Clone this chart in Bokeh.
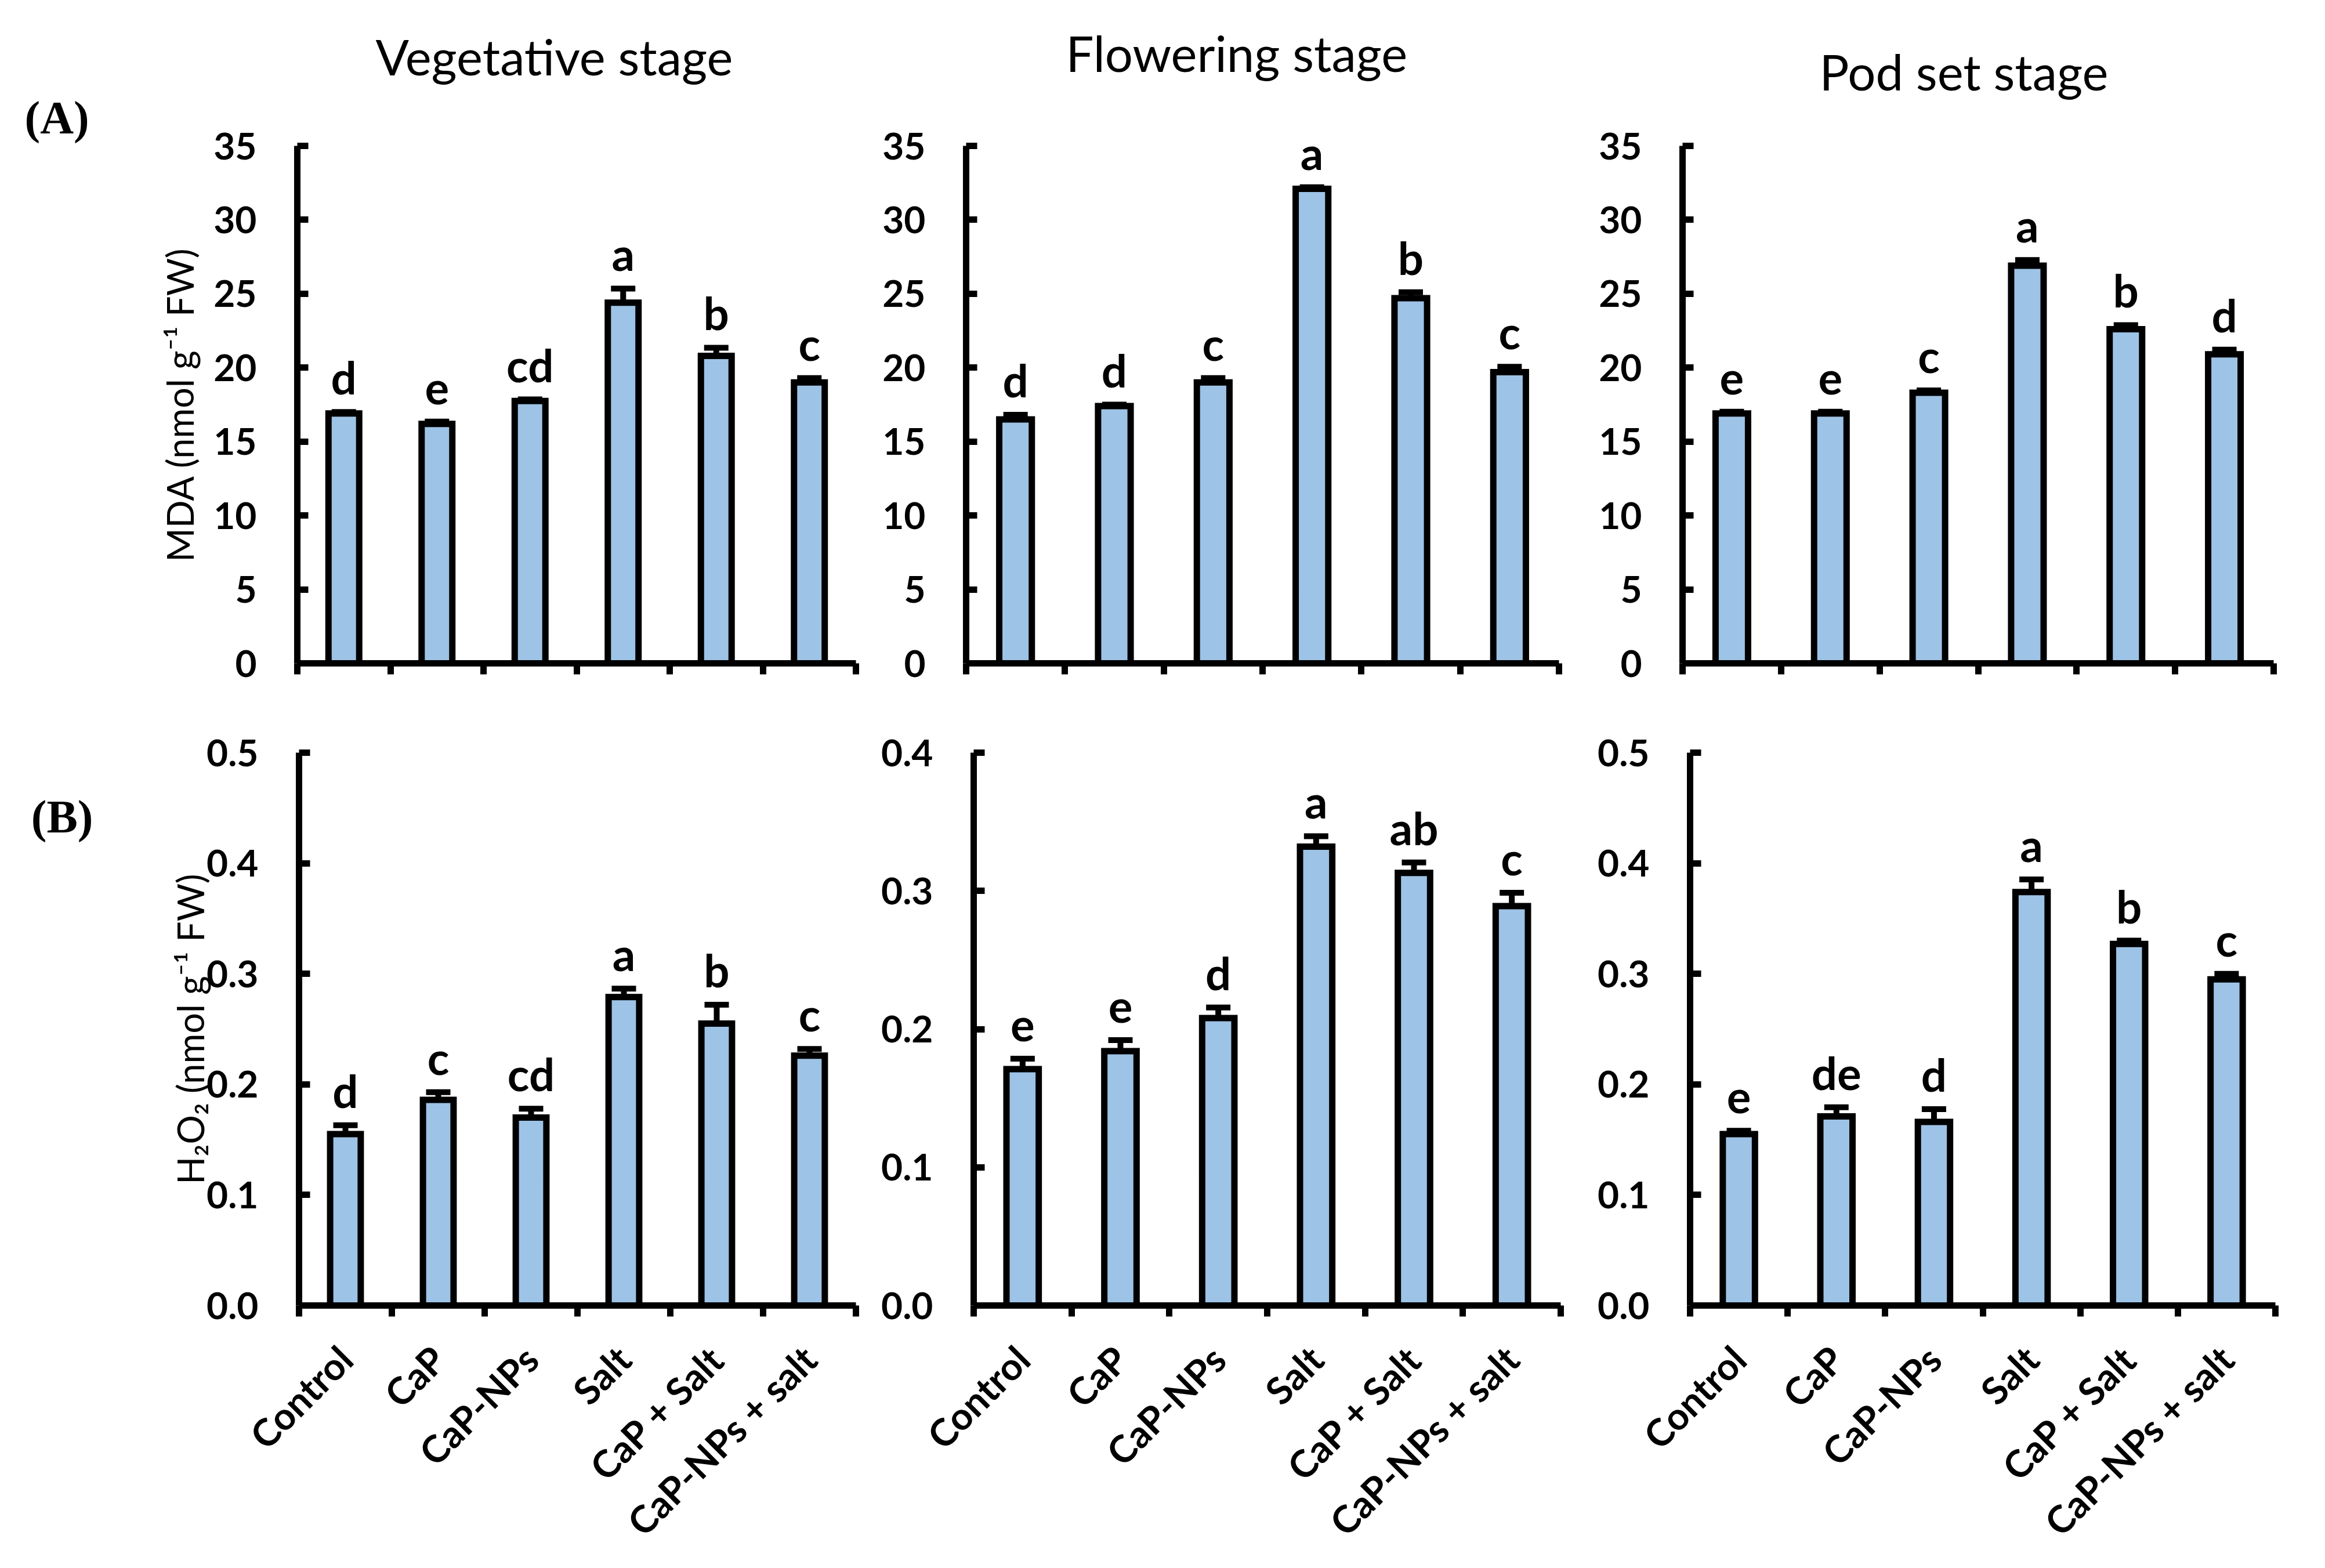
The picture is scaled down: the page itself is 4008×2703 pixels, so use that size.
from math import pi
from bokeh.plotting import figure
from bokeh.models import (Range1d, LinearAxis, FixedTicker, Title,
                          ColumnDataSource, Whisker, TeeHead, LabelSet,
                          NumeralTickFormatter)
from bokeh.layouts import column, row
from bokeh.core.properties import value
from bokeh.embed import file_html
from bokeh.resources import INLINE

# ---------------- data ----------------
categories = ["Control", "CaP", "CaP-NPs", "Salt", "CaP + Salt", "CaP-NPs + salt"]
stages = ["Vegetative stage", "Flowering stage", "Pod set stage"]

mda_veg = [16.9, 16.2, 17.75, 24.4, 20.8, 19.0]
mda_veg_err = [0.1, 0.15, 0.1, 0.95, 0.55, 0.3]
mda_veg_letters = ["d", "e", "cd", "a", "b", "c"]

mda_flow = [16.5, 17.4, 19.0, 32.1, 24.7, 19.7]
mda_flow_err = [0.31, 0.1, 0.3, 0.1, 0.4, 0.36]
mda_flow_letters = ["d", "d", "c", "a", "b", "c"]

mda_pod = [16.9, 16.9, 18.3, 26.9, 22.6, 20.9]
mda_pod_err = [0.12, 0.12, 0.16, 0.38, 0.28, 0.32]
mda_pod_letters = ["e", "e", "c", "a", "b", "d"]

h2o2_veg = [0.155, 0.186, 0.170, 0.279, 0.255, 0.226]
h2o2_veg_err = [0.008, 0.007, 0.008, 0.0076, 0.017, 0.006]
h2o2_veg_letters = ["d", "c", "cd", "a", "b", "c"]

h2o2_flow = [0.171, 0.184, 0.208, 0.332, 0.313, 0.289]
h2o2_flow_err = [0.0076, 0.008, 0.0076, 0.0076, 0.0076, 0.0096]
h2o2_flow_letters = ["e", "e", "d", "a", "ab", "c"]

h2o2_pod = [0.155, 0.171, 0.166, 0.374, 0.327, 0.295]
h2o2_pod_err = [0.003, 0.0083, 0.0116, 0.0113, 0.003, 0.005]
h2o2_pod_letters = ["e", "de", "d", "a", "b", "c"]

mda_ticks = [0, 5, 10, 15, 20, 25, 30, 35]
h2o2_ticks_05 = [0.0, 0.1, 0.2, 0.3, 0.4, 0.5]
h2o2_ticks_04 = [0.0, 0.1, 0.2, 0.3, 0.4]

mda_label = "MDA (nmol g\u207b\u00b9 FW)"
h2o2_label = "H\u2082O\u2082 (nmol g\u207b\u00b9 FW)"

# ---------------- style ----------------
BAR_FILL = "#9DC3E6"
FONT = "Lato"
SERIF = "Liberation Serif"
LW = 11
TITLE_SIZE = "85px"

n = len(categories)
centers = [i + 0.5 for i in range(n)]      # category centres on the numeric scale
edges = list(range(n + 1))                 # category boundaries (tick marks)

HAS_STANDOFF = "standoff" in Title.properties()


def make_title(text, align, offset, standoff, font, size, style="normal"):
    kw = dict(text=text, align=align, offset=offset, text_font=font,
              text_font_size=size, text_font_style=style, text_color="black",
              vertical_align="bottom")
    if HAS_STANDOFF:
        kw["standoff"] = standoff
    return Title(**kw)


def make_panel(vals, errs, letters, ymax, yticks, fmt, width, height, borders,
               show_cats, ylabel=None, ylabel_standoff=0):
    left, right, top, bottom = borders
    p = figure(width=width, height=height,
               x_range=Range1d(0, n), y_range=Range1d(0, ymax),
               output_backend="svg", toolbar_location=None,
               x_axis_location=None, title_location=None,
               min_border_left=left, min_border_right=right,
               min_border_top=top, min_border_bottom=bottom,
               outline_line_color=None)
    p.grid.visible = False

    ya = p.yaxis[0]
    ya.ticker = FixedTicker(ticks=yticks)
    if fmt:
        ya.formatter = NumeralTickFormatter(format=fmt)
    ya.major_tick_in = 19
    ya.major_tick_out = 0
    ya.minor_tick_line_color = None
    ya.axis_line_width = LW
    ya.major_tick_line_width = LW
    ya.major_label_standoff = 70
    ya.major_label_text_font = FONT
    ya.major_label_text_font_style = "bold"
    ya.major_label_text_font_size = "64px"
    ya.major_label_text_color = "black"
    if ylabel:
        ya.axis_label = ylabel
        ya.axis_label_text_font = FONT
        ya.axis_label_text_font_style = "normal"
        ya.axis_label_text_font_size = "63px"
        ya.axis_label_text_color = "black"
        ya.axis_label_standoff = ylabel_standoff

    edge_axis = LinearAxis(ticker=FixedTicker(ticks=edges),
                           major_tick_out=19, major_tick_in=0,
                           axis_line_width=LW, major_tick_line_width=LW,
                           minor_tick_line_color=None,
                           major_label_standoff=0,
                           major_label_text_font_size="0px",
                           major_label_text_color=None)
    p.add_layout(edge_axis, "below")

    if show_cats:
        cat_axis = LinearAxis(ticker=FixedTicker(ticks=centers),
                              major_label_overrides={c: s for c, s in zip(centers, categories)},
                              major_label_orientation=pi / 4,
                              axis_line_color=None,
                              major_tick_line_color=None,
                              minor_tick_line_color=None,
                              major_tick_in=0, major_tick_out=0,
                              major_label_standoff=62,
                              major_label_text_font=FONT,
                              major_label_text_font_style="bold",
                              major_label_text_font_size="65px",
                              major_label_text_color="black")
        p.add_layout(cat_axis, "below")

    src = ColumnDataSource(data=dict(
        x=centers,
        cat=categories,
        mean=vals,
        upper=[v + e for v, e in zip(vals, errs)],
        lower=[v - e for v, e in zip(vals, errs)],
        letter=letters,
    ))
    p.vbar(x="x", top="mean", width=0.33, source=src,
           fill_color=BAR_FILL, line_color="black", line_width=LW,
           line_join="miter")

    w = Whisker(source=src, base="x", upper="upper", lower="lower",
                line_color="black", line_width=10,
                upper_head=TeeHead(size=42, line_color="black", line_width=10),
                lower_head=TeeHead(size=42, line_color="black", line_width=10))
    p.add_layout(w)

    ls = LabelSet(x="x", y="upper", text="letter", source=src,
                  y_offset=30, text_align="center", text_baseline="alphabetic",
                  text_font=value(FONT), text_font_style="bold",
                  text_font_size="78px", text_color="black")
    p.add_layout(ls)
    return p


# top row (MDA)
p1 = make_panel(mda_veg, mda_veg_err, mda_veg_letters, 35, mda_ticks, None,
                1500, 1200, (512, 25, 245, 51), False, mda_label, 18)
p2 = make_panel(mda_flow, mda_flow_err, mda_flow_letters, 35, mda_ticks, None,
                1230, 1200, (165, 43, 251, 53), False)
p3 = make_panel(mda_pod, mda_pod_err, mda_pod_letters, 35, mda_ticks, None,
                1260, 1200, (170, 71, 219, 57), False)

# panel letter (A) sits just above the first frame, the stage titles above that;
# the other two panels get a blank spacer of matching height so that all
# three stage titles line up
p1.add_layout(make_title("(A)", "left", -470, 10, SERIF, "80px", "bold"), "above")
p1.add_layout(make_title(stages[0], "left", 135, 8, FONT, TITLE_SIZE), "above")
p2.add_layout(make_title(" ", "left", 0, 16, SERIF, "80px", "bold"), "above")
p2.add_layout(make_title(stages[1], "left", 172, 8, FONT, TITLE_SIZE), "above")
p3.add_layout(make_title(" ", "left", 0, 10, SERIF, "56px", "bold"), "above")
p3.add_layout(make_title(stages[2], "left", 236, 8, FONT, TITLE_SIZE), "above")

# bottom row (H2O2)
p4 = make_panel(h2o2_veg, h2o2_veg_err, h2o2_veg_letters, 0.5, h2o2_ticks_05, "0.0",
                1500, 1494, (515, 25, 92, 437), True, h2o2_label, -12)
p5 = make_panel(h2o2_flow, h2o2_flow_err, h2o2_flow_letters, 0.4, h2o2_ticks_04, "0.0",
                1230, 1494, (178, 40, 79, 444), True)
p6 = make_panel(h2o2_pod, h2o2_pod_err, h2o2_pod_letters, 0.5, h2o2_ticks_05, "0.0",
                1260, 1494, (183, 68, 97, 434), True)

# panel letter (B): an outer, line-less left axis carrying a single label
B_ANCHOR = 0.442
b_axis = LinearAxis(ticker=FixedTicker(ticks=[B_ANCHOR]),
                    major_label_overrides={B_ANCHOR: "(B)"},
                    axis_line_color=None, major_tick_line_color=None,
                    minor_tick_line_color=None,
                    major_tick_in=0, major_tick_out=0,
                    major_label_standoff=127,
                    major_label_text_font=SERIF,
                    major_label_text_font_style="bold",
                    major_label_text_font_size="80px",
                    major_label_text_color="black")
p4.add_layout(b_axis, "left")

layout = column(row(p1, p2, p3), row(p4, p5, p6))

open("out.html", "w").write(file_html(layout, INLINE))
